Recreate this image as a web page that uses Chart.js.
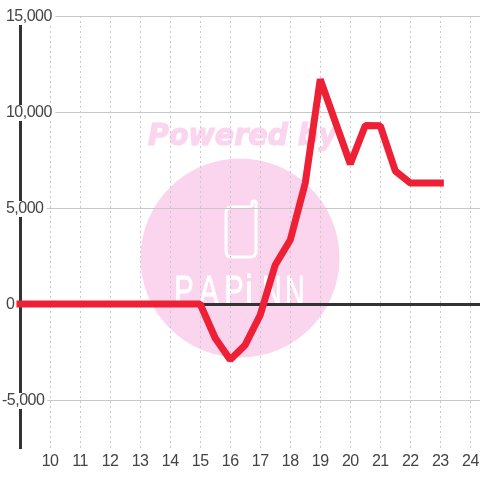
<!DOCTYPE html>
<html><head><meta charset="utf-8">
<style>html,body{margin:0;padding:0;background:#fff}#w{width:480px;height:480px;position:relative}</style>
<script src="https://cdn.jsdelivr.net/npm/chart.js@4"></script>
</head><body><div id="w"><canvas id="c" width="480" height="480"></canvas></div>
<script>
const hours = [9,10,11,12,13,14,15,15.5,16,16.5,17,17.5,18,18.5,19,19.5,20,20.5,21,21.5,22,22.5,23];
const values = [0,0,0,0,0,0,0,-1770,-2900,-2130,-570,2030,3330,6300,11700,9490,7290,9300,9280,6930,6300,6300,6300];
const xRange = [9,24.32];
const yRange = [-7500,15000];
const yStep = 2500;

const PINK = '#fbd5ee';
const watermark = {
  id:'watermark',
  beforeDraw(chart){
    const c = chart.ctx; c.save();
    c.fillStyle = PINK;
    c.beginPath(); c.arc(240,258,99.5,0,Math.PI*2); c.fill();
    c.font = 'italic bold 30px "DejaVu Sans"';
    c.textAlign='left'; c.textBaseline='alphabetic';
    c.strokeStyle=PINK; c.lineWidth=1.2;
    c.save(); c.translate(148,145); c.scale(0.95,1); c.fillText('Powered by',0,0); c.strokeText('Powered by',0,0); c.restore();
    c.strokeStyle='#fff'; c.lineWidth=3; c.lineJoin='round';
    c.beginPath();
    c.moveTo(251,207); c.lineTo(232,207); c.quadraticCurveTo(226,207,226,213);
    c.lineTo(226,251); c.quadraticCurveTo(226,257,232,257);
    c.lineTo(250,257); c.quadraticCurveTo(256,257,256,251);
    c.lineTo(256,203); c.arc(254,203,2,0,Math.PI,true); c.lineTo(252,207);
    c.stroke();
    c.fillStyle='#fff';
    c.font='43px "Liberation Sans"';
    c.textAlign='center';
    c.lineWidth=0.8;
    const letters='PAPiNN'.split('');
    const centres=[184,209,234,249,272,295];
    const widths=[0.68,0.68,0.68,0.8,0.62,0.62];
    letters.forEach((l,i)=>{ c.save(); c.translate(centres[i],305); c.scale(widths[i],1); c.fillText(l,0,0); c.strokeText(l,0,0); c.restore(); });
    c.restore();
    c.letterSpacing='-0.5px';
  }
};
new Chart(document.getElementById('c'),{
  type:'line',
  data:{labels:hours,datasets:[{data:hours.map((h,i)=>({x:h,y:values[i]})),
    borderColor:'#ee2035',borderWidth:7,borderCapStyle:'square',borderJoinStyle:'bevel',
    pointRadius:0,tension:0,fill:false,clip:false}]},
  plugins:[watermark],
  options:{
    responsive:false,animation:false,
    layout:{padding:{top:16,left:0,right:0,bottom:0}},
    plugins:{legend:{display:false},title:{display:false},tooltip:{enabled:false}},
    scales:{
      x:{type:'linear',min:xRange[0],max:xRange[1],
        grid:{color:'#c8c8c8',lineWidth:1,drawTicks:true,tickLength:6,tickColor:'transparent'},
        border:{display:false,dash:[2,3]},
        afterFit(s){s.height=32;},
        ticks:{stepSize:1,includeBounds:false,autoSkip:false,maxRotation:0,padding:0,color:'#444',
          font:{family:'"Liberation Sans"',size:16,lineHeight:1},
          callback:v=>v===xRange[0]?null:String(v)}},
      y:{min:yRange[0],max:yRange[1],
        afterFit(s){s.width=20;},
        grid:{drawTicks:false,tickLength:0,
          color:c=>c.tick&&c.tick.value===0?'#333':'#c8c8c8',
          lineWidth:c=>c.tick&&c.tick.value===0?3:1},
        border:{display:true,color:'#333',width:3},
        ticks:{stepSize:yStep,includeBounds:false,autoSkip:false,mirror:true,padding:-18,labelOffset:1,color:'#444',
          showLabelBackdrop:true,backdropColor:'#fff',backdropPadding:0,
          font:{family:'"Liberation Sans"',size:16,lineHeight:1},
          callback:v=>{ if(v%5000!==0) return null; const s=v.toLocaleString('en-US'); return v<0?s:' '+s; }}}
    }
  }
});
</script></body></html>
